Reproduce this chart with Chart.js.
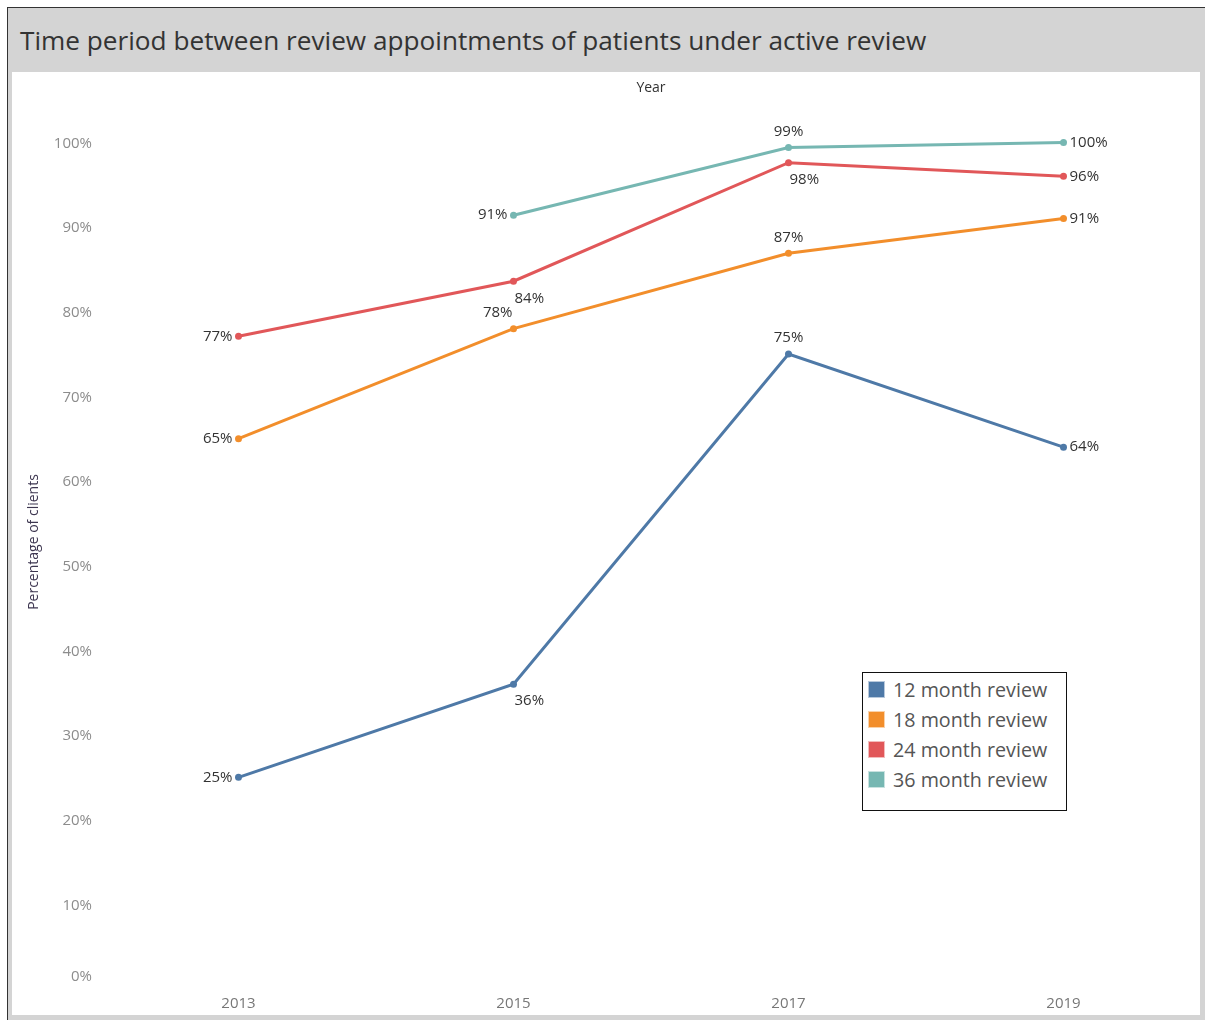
<!DOCTYPE html>
<html>
<head>
<meta charset="utf-8">
<script src="https://cdn.jsdelivr.net/npm/chart.js@4/dist/chart.umd.min.js"></script>
<style>
  html, body { margin: 0; padding: 0; background: #fff; }
  body { width: 1205px; height: 1020px; position: relative; overflow: hidden; font-family: "Open Sans", sans-serif; }
  #frame { position: absolute; left: 7px; top: 7px; width: 1198px; height: 1013px; background: #d4d4d4;
           border-top: 1px solid #333; border-left: 1px solid #333; box-sizing: border-box; }
  #title { position: absolute; left: 20px; top: 23px; font-size: 26.2px; line-height: 35px; color: #333; white-space: nowrap; }
  #plot { position: absolute; left: 12px; top: 72px; width: 1188px; height: 943px; background: #fff; }
  #wrap { position: absolute; left: 12px; top: 72px; width: 1193px; height: 943px; }
  #legend { position: absolute; left: 862px; top: 672px; width: 205px; height: 139px; box-sizing: border-box;
            border: 1px solid #111; background: #fff; padding: 1px 0 0 5px; }
  .item { height: 30px; display: flex; align-items: center; font-size: 19.7px; color: #555; }
  .sw { width: 17px; height: 17px; margin-right: 8px; box-sizing: border-box; border: 1px solid rgba(255,255,255,0.6); }
</style>
</head>
<body>
<div id="frame"></div>
<div id="title">Time period between review appointments of patients under active review</div>
<div id="plot"></div>
<div id="wrap"><canvas id="graph"></canvas></div>
<div id="legend"></div>
<script>
const years = ["2013", "2015", "2017", "2019"];
const seriesNames = ["12 month review", "18 month review", "24 month review", "36 month review"];
const review12 = [25, 36, 75, 64];
const review18 = [65, 78, 86.9, 91];
const review24 = [77.1, 83.6, 97.6, 96];
const review36 = [null, 91.4, 99.4, 100];
const yTicks = [0, 10, 20, 30, 40, 50, 60, 70, 80, 90, 100];
const colors = ["#4e79a7", "#f28e2b", "#e15759", "#76b7b2"];

// where each data label sits relative to its point
const labelPlacement = [
    ["left", "below", "above", "right"],
    ["left", "aboveLeft", "above", "right"],
    ["left", "below", "below", "right"],
    [null, "left", "above", "right"]
];

const FONT = '"Open Sans", sans-serif';
const allSeries = [review12, review18, review24, review36];

const datasets = allSeries.map((vals, i) => ({
    label: seriesNames[i],
    data: vals,
    borderColor: colors[i],
    backgroundColor: colors[i],
    borderWidth: 3,
    pointRadius: 3.5,
    pointBorderWidth: 0,
    pointBackgroundColor: colors[i],
    tension: 0,
    spanGaps: false
}));

const pointLabels = {
    id: "pointLabels",
    afterDatasetsDraw(chart) {
        const ctx = chart.ctx;
        ctx.save();
        ctx.font = "15px " + FONT;
        ctx.fillStyle = "#333";
        chart.data.datasets.forEach((ds, i) => {
            const meta = chart.getDatasetMeta(i);
            ds.data.forEach((v, j) => {
                if (v === null) return;
                const p = meta.data[j];
                const txt = Math.round(v) + "%";
                const pos = labelPlacement[i][j];
                let x = p.x, y = p.y;
                ctx.textBaseline = "middle";
                if (pos === "left") { ctx.textAlign = "right"; x -= 6; }
                else if (pos === "right") { ctx.textAlign = "left"; x += 6; }
                else if (pos === "above") { ctx.textAlign = "center"; y -= 16; }
                else if (pos === "below") { ctx.textAlign = "left"; x += 1; y += 17; }
                else if (pos === "aboveLeft") { ctx.textAlign = "right"; x -= 1; y -= 16; }
                ctx.fillText(txt, x, y);
            });
        });
        ctx.restore();
    }
};

const yLabels = {
    id: "yLabels",
    afterDraw(chart) {
        const ctx = chart.ctx;
        const y = chart.scales.y;
        ctx.save();
        ctx.font = "15px " + FONT;
        ctx.fillStyle = "#8c8c8c";
        ctx.textAlign = "right";
        ctx.textBaseline = "middle";
        yTicks.forEach(v => {
            let py = y.getPixelForValue(v) + 1;
            py = Math.min(py, chart.chartArea.bottom - 12);
            ctx.fillText(v + "%", y.right - 9, py);
        });
        ctx.restore();
    }
};

let ctx = document.getElementById("graph");
new Chart(ctx, {
    type: "line",
    data: { labels: years, datasets: datasets },
    options: {
        responsive: true,
        maintainAspectRatio: false,
        animation: false,
        layout: { padding: { left: 0, right: 0, top: 0, bottom: 0 } },
        plugins: { legend: { display: false }, tooltip: { enabled: false } },
        scales: {
            x: {
                type: "category",
                offset: true,
                grid: { display: false, drawTicks: false },
                border: { display: false },
                ticks: { color: "#777", font: { size: 15, family: FONT }, padding: 6, maxRotation: 0 },
                afterFit(s) { s.height = 26; }
            },
            x2: {
                type: "category",
                position: "top",
                labels: years,
                offset: true,
                grid: { display: false, drawTicks: false },
                border: { display: false },
                ticks: { display: false },
                title: { display: true, text: "Year", color: "#333", font: { size: 14, family: FONT }, padding: { top: 8, bottom: 0 } },
                afterFit(s) { s.height = 23; }
            },
            y: {
                min: 0,
                max: 105.6,
                grid: { display: false, drawTicks: false },
                border: { display: false },
                ticks: { display: false },
                title: { display: true, text: "Percentage of clients", color: "#3d3650", font: { size: 14, family: FONT }, padding: { top: 14, bottom: 0 } },
                afterFit(s) { s.width = 89; }
            }
        }
    },
    plugins: [pointLabels, yLabels]
});

// legend box built from the same series
const legend = document.getElementById("legend");
seriesNames.forEach((name, i) => {
    const row = document.createElement("div");
    row.className = "item";
    row.innerHTML = '<span class="sw" style="background:' + colors[i] + '"></span>' + name;
    legend.appendChild(row);
});
</script>
</body>
</html>
